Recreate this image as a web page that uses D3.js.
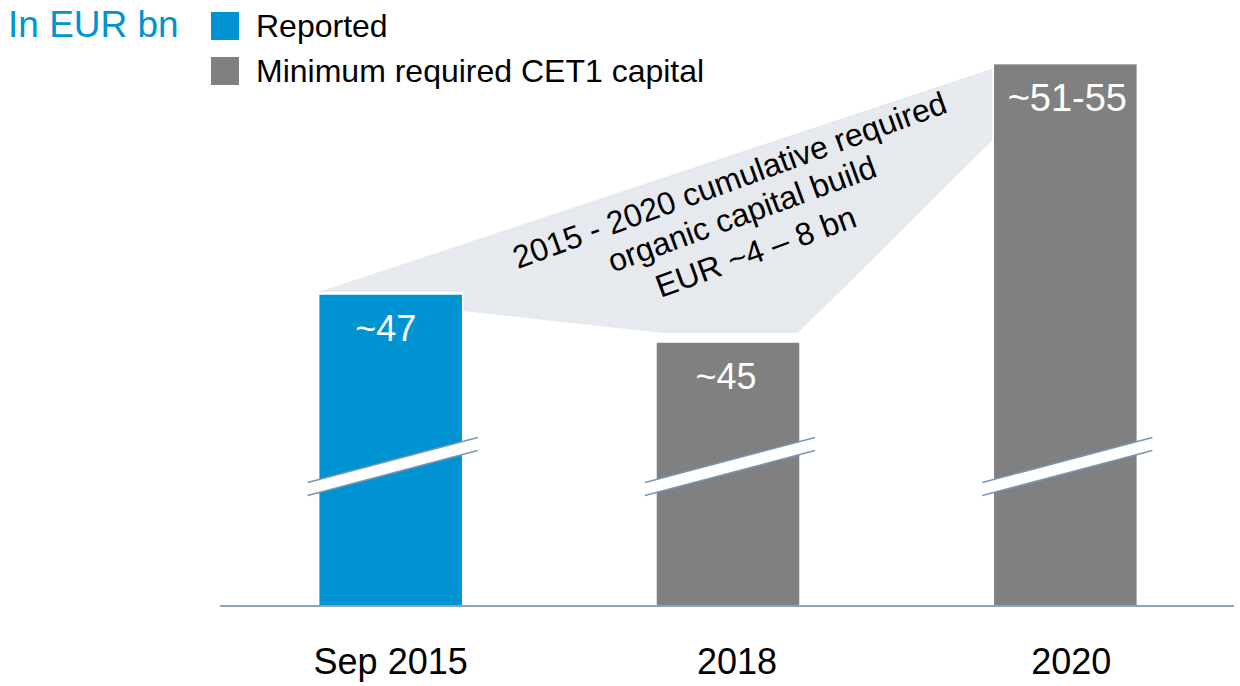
<!DOCTYPE html>
<html>
<head>
<meta charset="utf-8">
<script src="https://cdn.jsdelivr.net/npm/d3@7"></script>
<style>
  body { margin: 0; background: #fff; }
  svg { display: block; font-family: "Liberation Sans", Arial, sans-serif; }
</style>
</head>
<body>
<svg class="canvas" width="1240" height="686"></svg>
<script>
'use strict';

// Data (axis is broken, bars start at ~34)
const categories = ['Sep 2015', '2018', '2020'];
const values = [47, 45, 56.6];
const valueLabels = ['~47', '~45', '~51-55'];
const seriesOf = ['Reported', 'Minimum required CET1 capital', 'Minimum required CET1 capital'];
const legendItems = ['Reported', 'Minimum required CET1 capital'];
const calloutLines = ['2015 - 2020 cumulative required', 'organic capital build', 'EUR ~4 \u2013 8 bn'];

const blue = '#0093d1',
  grey = '#808080',
  axisColor = '#8ea2bb',
  breakColor = '#7d94b1',
  calloutFill = '#e6e9ee';

const svg = d3.select('.canvas'),
  baseY = 606,
  breakY = 467,
  tickShift = [0, 9, 6], // labels in the source sit a little right of centre
  lineOffsets = [-25, 11, 51];

const color = d3.scaleOrdinal(legendItems, [blue, grey]);

const x = d3
  .scaleBand()
  .domain(categories)
  .range([222, 1234])
  .paddingInner(0.573)
  .paddingOuter(0.2865);

const y = d3.scaleLinear().domain([34, 47]).range([baseY, 294]);

// Callout shape behind the bars
const xs = categories.map(c => x(c)),
  bw = x.bandwidth();
const callout = [
  [xs[0], y(values[0]) - 2],
  [xs[2] - 1, y(values[2]) + 5],
  [xs[2] - 1, y(values[2]) + 77],
  [xs[1] + bw - 2, y(values[1]) - 9],
  [xs[1] + 7, y(values[1]) - 9],
  [xs[0] + bw, y(values[0]) + 17],
  [xs[0] + bw, y(values[0]) - 2]
];
svg
  .append('path')
  .attr('d', d3.line()(callout) + 'Z')
  .attr('fill', calloutFill);

// Bars
svg
  .selectAll('.bar')
  .data(values)
  .enter()
  .append('rect')
  .attr('class', 'bar')
  .attr('x', (d, i) => x(categories[i]))
  .attr('y', d => y(d))
  .attr('width', bw)
  .attr('height', d => baseY - y(d))
  .attr('fill', (d, i) => color(seriesOf[i]))
  .attr('stroke', '#fff')
  .attr('stroke-width', 1.5);

// Axis break marks
const slope = 45 / 170,
  gap = 13;
categories.forEach(c => {
  const cx = x(c) + bw / 2,
    x0 = x(c) - 11,
    x1 = x(c) + bw + 15,
    top = xx => breakY - gap / 2 - slope * (xx - cx);
  const g = svg.append('g').attr('class', 'axis-break');
  g.append('path')
    .attr('d', `M${x0},${top(x0)}L${x1},${top(x1)}L${x1},${top(x1) + gap}L${x0},${top(x0) + gap}Z`)
    .attr('fill', '#fff');
  [0, gap].forEach(off =>
    g.append('line')
      .attr('x1', x0).attr('y1', top(x0) + off)
      .attr('x2', x1).attr('y2', top(x1) + off)
      .attr('stroke', breakColor)
      .attr('stroke-width', 1.6)
  );
});

// Value labels
svg
  .selectAll('.value')
  .data(values)
  .enter()
  .append('text')
  .attr('class', 'value')
  .attr('x', (d, i) => x(categories[i]) + bw / 2 + [-5, -2, 2][i])
  .attr('y', d => y(d) + 47)
  .attr('text-anchor', 'middle')
  .attr('fill', '#fff')
  .attr('font-size', (d, i) => (i === 2 ? 38 : 36))
  .text((d, i) => valueLabels[i]);

// Baseline axis
const axis = svg
  .append('g')
  .attr('transform', `translate(0,${baseY})`)
  .call(d3.axisBottom(x).tickSize(0).tickPadding(42));
axis.select('.domain').attr('stroke', axisColor).attr('stroke-width', 2).attr('d', 'M220,0H1234');
axis
  .selectAll('.tick text')
  .attr('font-size', 36)
  .attr('fill', '#000')
  .attr('font-family', null)
  .attr('dx', (d, i) => tickShift[i]);

// Callout text
const callText = svg
  .append('text')
  .attr('transform', 'translate(742,214) rotate(-20)')
  .attr('text-anchor', 'middle')
  .attr('font-size', 32)
  .attr('fill', '#000');
calloutLines.forEach((line, i) =>
  callText.append('tspan').attr('x', 0).attr('y', lineOffsets[i]).text(line)
);

// Unit label
svg
  .append('text')
  .attr('x', 8)
  .attr('y', 37)
  .attr('font-size', 37)
  .attr('fill', blue)
  .text('In EUR bn');

// Legend
const legend = svg
  .selectAll('.legend')
  .data(legendItems)
  .enter()
  .append('g')
  .attr('class', 'legend')
  .attr('transform', (d, i) => `translate(211,${12 + i * 45})`);
legend.append('rect').attr('width', 28).attr('height', 28).attr('fill', d => color(d));
legend
  .append('text')
  .attr('x', 45)
  .attr('y', 25)
  .attr('font-size', 32)
  .attr('fill', '#000')
  .text(d => d);
</script>
</body>
</html>
